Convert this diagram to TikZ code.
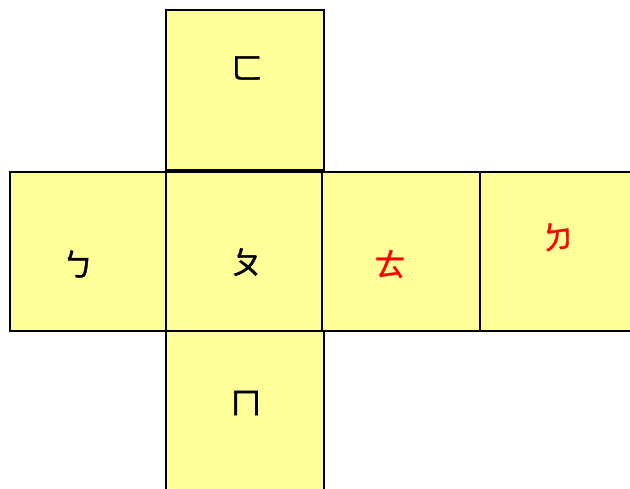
\documentclass[tikz,border=0pt]{standalone}
\usepackage{fontspec}
\newfontfamily\bopo[FakeBold=1]{Noto Sans CJK TC}
\usetikzlibrary{positioning}
\definecolor{facefill}{HTML}{FFFF99}

\begin{document}
\begin{tikzpicture}[
    x=0.02cm, y=-0.02cm,
    face/.style={draw, line width=0.9pt, fill=facefill, inner sep=0pt},
    glyph/.style={font=\bopo\fontsize{18}{18}\selectfont, inner sep=0pt},
  ]
  \useasboundingbox (0,0) rectangle (630,489);
  \clip (0,0) rectangle (630,489);
  \node[face, minimum width=3.16cm, minimum height=3.2cm] (top) at (245,90) {};
  \node[face, minimum width=3.12cm, minimum height=3.18cm] (left) at (88,251.5) {};
  \node[face, minimum width=3.16cm, minimum height=3.18cm] (right) at (401,251.5) {};
  \node[face, minimum width=3.2cm, minimum height=3.18cm] (far) at (560,251.5) {};
  \node[face, minimum width=3.16cm, minimum height=3.2cm] (bottom) at (245,411) {};
  \node[face, minimum width=3.12cm, minimum height=3.18cm] (mid) at (244,251.5) {};

  \node[glyph] (fa) at (247,68) {ㄈ};
  \node[glyph] (bo) at (78,264) {ㄅ};
  \node[glyph] (po) at (247,262) {ㄆ};
  \node[glyph, red] (te) at (390,264) {ㄊ};
  \node[glyph, red, rotate=8] (de) at (558,236) {ㄉ};
  \node[glyph] (mo) at (246,403) {ㄇ};
\end{tikzpicture}
\end{document}
